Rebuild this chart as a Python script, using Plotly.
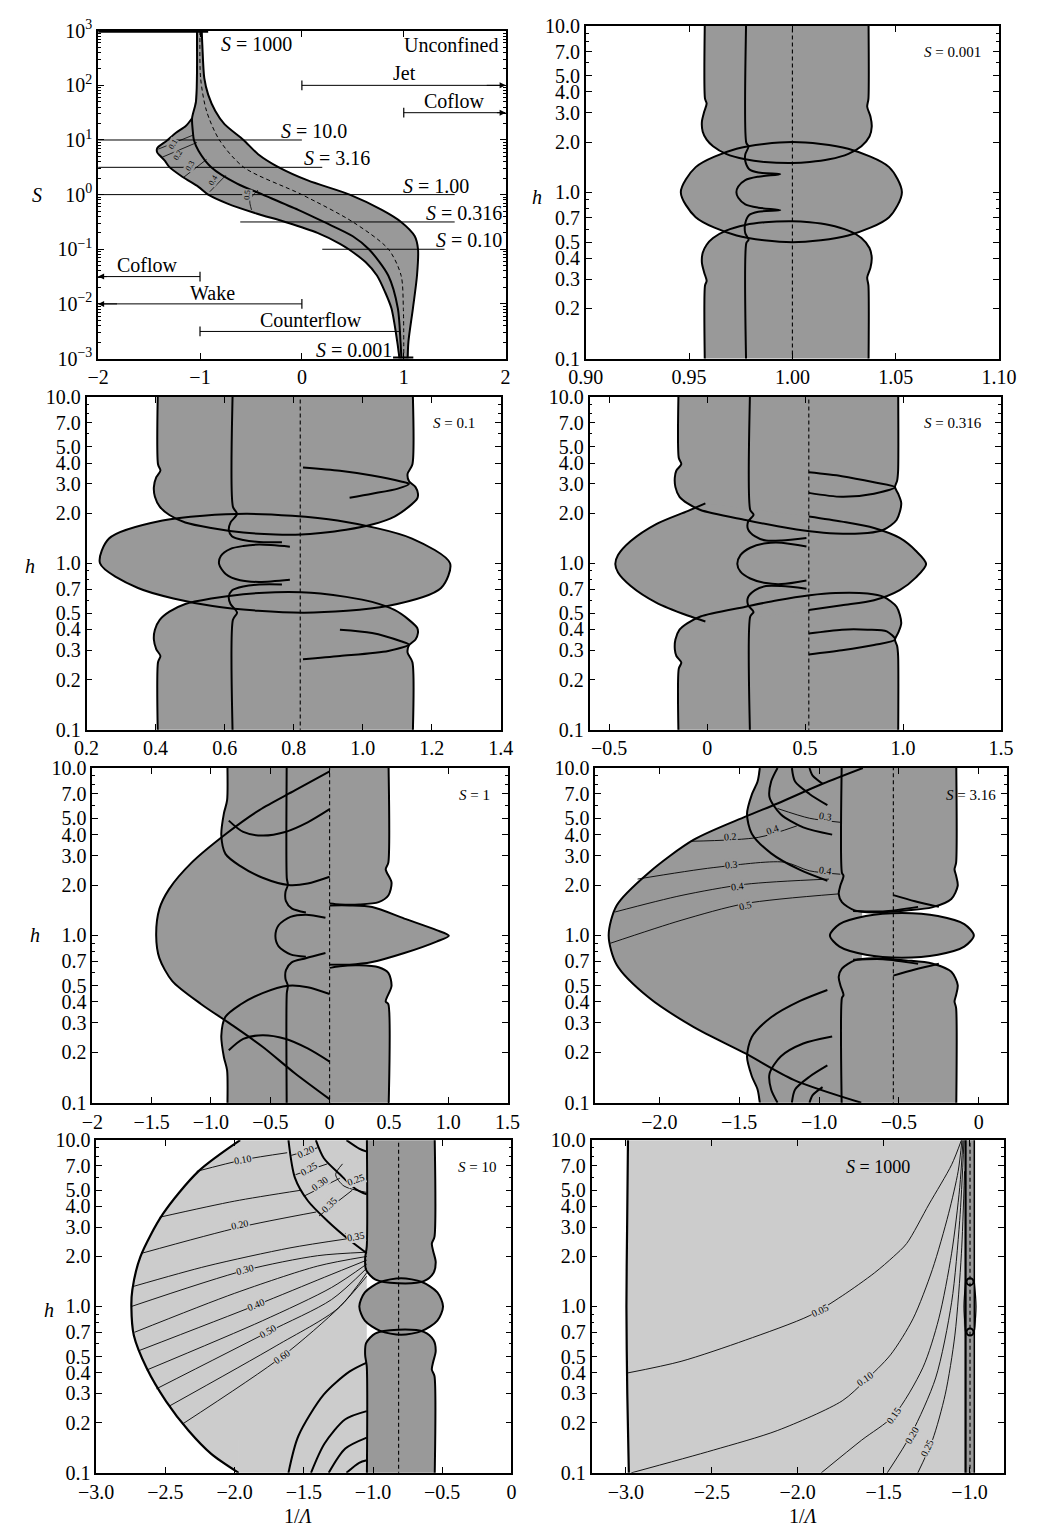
import math
import plotly.graph_objects as go

W, H = 1046, 1538
DARK = "#999999"
LIGHT = "#cccccc"
FONT = "Liberation Serif"
M = "\u2212"

# subplot frames in pixels: left, right, top, bottom
FRAMES = {
    1: (83, 505, 18, 351), 2: (588, 1016, 13, 351),
    3: (71, 500, 390, 728), 4: (592, 1018, 390, 728),
    5: (77, 507, 767, 1107), 6: (598, 1024, 767, 1107),
    7: (81, 511, 1145, 1483), 8: (594, 1021, 1145, 1483),
}

# ---------------- panel 1: S against 1/Lambda ----------------
P1_RIGHT = [(-0.983, 1000), (-0.977, 537), (-0.958, 135), (-0.92, 67.6), (-0.85, 33.9),
            (-0.76, 19.5), (-0.573, 10), (-0.43, 5.5), (-0.226, 3.16), (0.058, 1.82),
            (0.469, 1.0), (0.785, 0.525), (0.974, 0.316), (1.107, 0.174), (1.14, 0.1),
            (1.13, 0.0331), (1.09, 0.0083), (1.046, 0.00204), (1.038, 0.001)]
P1_MID = [(-1.03, 1000), (-1.03, 150), (-1.04, 50), (-1.078, 25), (-1.07, 14), (-1.06, 10),
          (-1.015, 6.37), (-0.89, 3.18), (-0.636, 1.59), (-0.384, 1.0), (-0.036, 0.526),
          (0.216, 0.316), (0.5, 0.173), (0.658, 0.1), (0.848, 0.0331), (0.942, 0.0083),
          (0.968, 0.00204), (0.977, 0.001)]
P1_LEFT = [(-1.078, 25), (-1.14, 18), (-1.236, 13.6), (-1.33, 9.6), (-1.42, 7.1), (-1.42, 5.9),
           (-1.394, 5.2), (-1.346, 4.2), (-1.30, 3.18), (-1.17, 2.1), (-1.015, 1.39),
           (-0.92, 1.0), (-0.73, 0.686), (-0.447, 0.452), (-0.163, 0.316), (0.153, 0.2),
           (0.374, 0.126), (0.46, 0.1), (0.627, 0.0577), (0.737, 0.0331), (0.816, 0.0166),
           (0.879, 0.0083), (0.936, 0.00204), (0.958, 0.001)]
P1_DASH = [(-1.0, 1000), (-0.994, 135), (-0.936, 33.9), (-0.81, 10), (-0.57, 3.16), (0.0, 1.0),
           (0.5, 0.316), (0.85, 0.1), (0.974, 0.0331), (0.996, 0.0083), (1.0, 0.001)]
P1_CONTOURS = [
    [(-1.41, 6.8), (-1.062, 12.4)],
    [(-1.372, 4.83), (-1.031, 9.0)],
    [(-1.157, 2.1), (-0.936, 4.4)],
    [(-0.904, 1.13), (-0.747, 2.25)],
    [(-0.494, 0.526), (-0.51, 0.8), (-0.431, 1.21)],
]
P1_CONTOUR_LABELS = [("0.1", -1.268, 8.4, -60), ("0.2", -1.22, 5.2, -60), ("0.3", -1.094, 3.4, -60),
                     ("0.4", -0.873, 1.83, -60), ("0.5", -0.541, 0.98, -85)]
# reference S levels: (S, x start, x end)
P1_LEVELS = [(10.0, -2, 0.0), (3.16, -2, 0.2), (1.0, -2, 1.5), (0.316, -0.605, 1.5), (0.1, 0.2, 1.4)]
P1_LEVEL_TEXT = [("<i>S</i> = 1000", -0.447, 575), ("<i>S</i> = 10.0", 0.122, 14.6),
                 ("<i>S</i> = 3.16", 0.343, 4.62), ("<i>S</i> = 1.00", 1.321, 1.45),
                 ("<i>S</i> = 0.316", 1.59, 0.458), ("<i>S</i> = 0.10", 1.637, 0.145),
                 ("<i>S</i> = 0.001", 0.516, 0.00146)]
P1_REGIME_TEXT = [("Unconfined", 1.463, 540), ("Jet", 1.006, 165), ("Coflow", 1.495, 50.8),
                  ("Coflow", -1.52, 0.0513), ("Wake", -0.873, 0.016), ("Counterflow", 0.09, 0.00507)]
# regime arrows: (x start, x end, S, arrowhead)
P1_ARROWS = [(0, 2, 100, True), (1, 2, 31.6, True), (-1, -2, 0.0316, True),
             (0, -2, 0.01, True), (-1, 0.97, 0.00313, False)]

# ---------------- panel 2: S = 0.001 ----------------
P2_TUBE_LO = [(0.9577, 0.1), (0.9577, 0.274), (0.9585, 0.293), (0.9573, 0.329), (0.9562, 0.377),
              (0.9566, 0.432), (0.9585, 0.483), (0.9616, 0.530), (0.9679, 0.587), (0.9772, 0.635),
              (0.9866, 0.659), (1.0, 0.668), (1.0084, 0.659), (1.0178, 0.635), (1.0271, 0.587),
              (1.0334, 0.530), (1.0373, 0.462), (1.0384, 0.404), (1.0378, 0.352), (1.0362, 0.307),
              (1.0368, 0.274), (1.0368, 0.1)]
P2_TUBE_UP = [(0.9577, 10), (0.9577, 3.65), (0.9585, 3.41), (0.9573, 3.04), (0.9562, 2.65),
              (0.9566, 2.31), (0.9585, 2.07), (0.9616, 1.89), (0.9679, 1.70), (0.9772, 1.575),
              (0.9866, 1.517), (1.0, 1.497), (1.0084, 1.517), (1.0178, 1.575), (1.0271, 1.70),
              (1.0334, 1.89), (1.0373, 2.16), (1.0384, 2.475), (1.0378, 2.84), (1.0362, 3.26),
              (1.0368, 3.65), (1.0368, 10)]
P2_ELLIPSE = [(1.053, 1.0), (1.0468, 1.414), (1.027, 1.823), (1.0, 2.0), (0.973, 1.823),
              (0.9532, 1.414), (0.946, 1.0), (0.9532, 0.707), (0.973, 0.5486), (1.0, 0.5),
              (1.027, 0.5486), (1.0468, 0.707), (1.053, 1.0)]
P2_SOLID = [(0.9777, 0.1), (0.9777, 0.494), (0.9788, 0.518), (0.9772, 0.566), (0.9772, 0.650),
            (0.9791, 0.728), (0.9835, 0.762), (0.9941, 0.780), (0.9835, 0.807), (0.9772, 0.845),
            (0.9738, 0.925), (0.9729, 1.0), (0.9738, 1.081), (0.9772, 1.183), (0.9835, 1.239),
            (0.9941, 1.282), (0.9835, 1.312), (0.9791, 1.374), (0.9772, 1.538), (0.9772, 1.687),
            (0.9788, 1.888), (0.9777, 1.977), (0.9777, 10)]
P2_DASH_X = 1.0

# ---------------- panel 3: S = 0.1 ----------------
P3_TUBE_LO = [(0.407, 0.1), (0.407, 0.254), (0.414, 0.277), (0.402, 0.304), (0.395, 0.348),
              (0.398, 0.399), (0.412, 0.457), (0.440, 0.512), (0.486, 0.569), (0.561, 0.614),
              (0.654, 0.652), (0.747, 0.670), (0.822, 0.670), (0.878, 0.658), (0.952, 0.628),
              (1.027, 0.586), (1.092, 0.524), (1.134, 0.457), (1.158, 0.408), (1.160, 0.381),
              (1.153, 0.348), (1.134, 0.321), (1.130, 0.290), (1.144, 0.254), (1.144, 0.1)]
P3_TUBE_UP = [(0.407, 10), (0.407, 3.94), (0.414, 3.61), (0.402, 3.29), (0.395, 2.87),
              (0.398, 2.51), (0.412, 2.19), (0.440, 1.95), (0.486, 1.76), (0.561, 1.63),
              (0.654, 1.53), (0.747, 1.49), (0.822, 1.49), (0.878, 1.52), (0.952, 1.59),
              (1.027, 1.71), (1.092, 1.91), (1.134, 2.19), (1.158, 2.45), (1.160, 2.62),
              (1.153, 2.87), (1.134, 3.12), (1.130, 3.45), (1.144, 3.94), (1.144, 10)]
P3_ELLIPSE = [(1.253, 1.0), (1.143, 1.408), (0.927, 1.808), (0.662, 1.982), (0.420, 1.808),
              (0.265, 1.408), (0.239, 1.0), (0.349, 0.710), (0.565, 0.553), (0.830, 0.505),
              (1.072, 0.553), (1.227, 0.710), (1.253, 1.0)]
P3_SOLID_A = [(0.624, 0.1), (0.624, 0.457), (0.636, 0.505), (0.617, 0.569), (0.612, 0.628),
              (0.621, 0.687), (0.654, 0.725), (0.70, 0.745), (0.766, 0.746)]
P3_SOLID_B = [(0.789, 0.796), (0.70, 0.772), (0.645, 0.79), (0.603, 0.863), (0.584, 0.989),
              (0.589, 1.107), (0.617, 1.222), (0.654, 1.27), (0.70, 1.295), (0.789, 1.259)]
P3_SOLID_C = [(0.766, 1.34), (0.70, 1.342), (0.654, 1.38), (0.621, 1.456), (0.612, 1.592),
              (0.617, 1.757), (0.636, 1.98), (0.624, 2.19), (0.624, 10)]
P3_TONGUE_UP = [(0.827, 3.77), (0.934, 3.6), (1.027, 3.37), (1.111, 3.1), (1.134, 3.0),
                (1.102, 2.81), (1.027, 2.62), (0.962, 2.48)]
P3_TONGUE_LO = [(0.934, 0.399), (1.027, 0.381), (1.111, 0.340), (1.134, 0.325), (1.074, 0.297),
                (0.934, 0.277), (0.827, 0.265)]
P3_DASH_X = 0.819

# ---------------- panel 4: S = 0.316 ----------------
P4_TUBE_LO = [(-0.145, 0.1), (-0.145, 0.232), (-0.132, 0.253), (-0.157, 0.277), (-0.165, 0.304),
              (-0.162, 0.348), (-0.141, 0.399), (-0.100, 0.437), (-0.034, 0.479), (0.196, 0.548),
              (0.360, 0.600), (0.524, 0.643), (0.655, 0.663), (0.819, 0.658), (0.901, 0.628),
              (0.967, 0.548), (0.991, 0.437), (0.975, 0.381), (0.959, 0.348), (0.970, 0.318),
              (0.975, 0.277), (0.975, 0.1)]
P4_TUBE_UP = [(-0.145, 10), (-0.145, 4.31), (-0.132, 3.95), (-0.157, 3.61), (-0.165, 3.29),
              (-0.162, 2.87), (-0.141, 2.51), (-0.100, 2.29), (-0.034, 2.09), (0.196, 1.82),
              (0.360, 1.67), (0.524, 1.556), (0.655, 1.51), (0.819, 1.52), (0.901, 1.59),
              (0.967, 1.82), (0.991, 2.29), (0.975, 2.62), (0.959, 2.87), (0.970, 3.14),
              (0.975, 3.61), (0.975, 10)]
P4_LOBE_L = [(-0.009, 2.29), (-0.10, 2.06), (-0.26, 1.72), (-0.39, 1.36), (-0.455, 1.12),
             (-0.469, 0.99), (-0.455, 0.88), (-0.39, 0.73), (-0.26, 0.58), (-0.10, 0.485),
             (-0.009, 0.447)]
P4_LOBE_R = [(0.519, 1.91), (0.688, 1.78), (0.852, 1.63), (0.983, 1.42), (1.065, 1.19),
             (1.118, 0.99), (1.065, 0.82), (0.983, 0.69), (0.852, 0.60), (0.688, 0.56),
             (0.519, 0.524)]
P4_SOLID_A = [(0.220, 0.1), (0.220, 0.479), (0.237, 0.51), (0.209, 0.56), (0.209, 0.625),
              (0.245, 0.69), (0.30, 0.73), (0.38, 0.73), (0.507, 0.704)]
P4_SOLID_B = [(0.507, 0.789), (0.38, 0.75), (0.30, 0.76), (0.22, 0.81), (0.17, 0.89),
              (0.154, 0.99), (0.17, 1.12), (0.22, 1.24), (0.30, 1.32), (0.38, 1.33), (0.507, 1.26)]
P4_SOLID_C = [(0.507, 1.42), (0.38, 1.37), (0.30, 1.37), (0.245, 1.45), (0.209, 1.6),
              (0.209, 1.78), (0.237, 1.96), (0.220, 2.09), (0.220, 10)]
P4_TONGUE_UP = [(0.519, 3.52), (0.688, 3.34), (0.852, 3.07), (0.959, 2.87), (0.852, 2.62),
                (0.688, 2.51), (0.519, 2.65)]
P4_TONGUE_LO = [(0.519, 0.378), (0.688, 0.399), (0.819, 0.399), (0.917, 0.39), (0.959, 0.348),
                (0.852, 0.323), (0.688, 0.30), (0.519, 0.283)]
P4_DASH_X = 0.519

# ---------------- panel 5: S = 1 ----------------
P5_CAP_UL = [(-0.864, 10), (-0.864, 6.42), (-0.891, 5.36), (-0.913, 3.99), (-0.878, 3.07),
             (-0.755, 2.60), (-0.565, 2.21), (-0.348, 2.0), (-0.185, 2.04), (0.0, 2.24)]
P5_CAP_LL = [(-0.864, 0.1), (-0.864, 0.156), (-0.891, 0.187), (-0.913, 0.251), (-0.878, 0.326),
             (-0.755, 0.385), (-0.565, 0.452), (-0.348, 0.50), (-0.185, 0.49), (0.0, 0.446)]
P5_LOBE = [(0.0, 9.56), (-0.293, 7.35), (-0.592, 5.61), (-0.864, 4.09), (-1.163, 2.72),
           (-1.353, 1.89), (-1.435, 1.44), (-1.462, 1.0), (-1.435, 0.731), (-1.326, 0.533),
           (-1.082, 0.388), (-0.837, 0.296), (-0.565, 0.216), (-0.293, 0.150), (0.0, 0.105)]
P5_TUBE_UR = [(0.0, 1.55), (0.087, 1.53), (0.25, 1.53), (0.413, 1.58), (0.495, 1.73),
              (0.522, 2.07), (0.473, 2.48), (0.495, 2.72), (0.495, 10)]
P5_TUBE_LR = [(0.0, 0.64), (0.087, 0.655), (0.25, 0.662), (0.413, 0.645), (0.495, 0.597),
              (0.522, 0.498), (0.473, 0.403), (0.495, 0.388), (0.495, 0.1)]
P5_RLOBE = [(0.0, 1.51), (0.168, 1.51), (0.359, 1.476), (0.630, 1.26), (0.902, 1.075),
            (1.005, 0.995), (0.902, 0.918), (0.630, 0.784), (0.359, 0.693), (0.168, 0.668),
            (0.0, 0.668)]
P5_SOLID_A = [(-0.361, 0.1), (-0.361, 0.45), (-0.352, 0.50), (-0.372, 0.55), (-0.368, 0.62),
              (-0.32, 0.69), (-0.2, 0.73), (-0.035, 0.784)]
P5_SOLID_B = [(-0.2, 0.745), (-0.33, 0.77), (-0.43, 0.86), (-0.457, 0.99), (-0.43, 1.15),
              (-0.33, 1.29), (-0.2, 1.33), (-0.035, 1.276)]
P5_SOLID_C = [(-0.2, 1.37), (-0.32, 1.45), (-0.368, 1.6), (-0.372, 1.82), (-0.352, 2.0),
              (-0.361, 2.2), (-0.361, 10)]
P5_LOOP_UP = [(-0.85, 4.85), (-0.728, 4.15), (-0.565, 3.95), (-0.375, 4.15), (-0.185, 4.74),
              (0.0, 5.68)]
P5_LOOP_LO = [(-0.85, 0.206), (-0.728, 0.241), (-0.565, 0.253), (-0.375, 0.241), (-0.185, 0.211),
              (0.0, 0.176)]
P5_DASH_X = 0.0

# ---------------- panel 6: S = 3.16 ----------------
P6_TUBE_UP = [(-0.857, 10), (-0.857, 2.37), (-0.847, 2.27), (-0.867, 1.98), (-0.877, 1.77),
              (-0.857, 1.58), (-0.777, 1.41), (-0.656, 1.37), (-0.454, 1.41), (-0.293, 1.47),
              (-0.172, 1.65), (-0.132, 1.98), (-0.142, 2.27), (-0.152, 2.48), (-0.142, 2.72),
              (-0.142, 10)]
P6_TUBE_LO = [(-0.857, 0.1), (-0.857, 0.422), (-0.847, 0.44), (-0.867, 0.505), (-0.877, 0.565),
              (-0.857, 0.633), (-0.777, 0.709), (-0.656, 0.730), (-0.454, 0.709), (-0.293, 0.680),
              (-0.172, 0.606), (-0.132, 0.505), (-0.142, 0.44), (-0.152, 0.403), (-0.142, 0.368),
              (-0.142, 0.1)]
P6_ELLIPSE = [(-0.031, 1.0), (-0.091, 1.168), (-0.256, 1.306), (-0.4815, 1.36), (-0.707, 1.306),
              (-0.872, 1.168), (-0.932, 1.0), (-0.872, 0.856), (-0.707, 0.766), (-0.4815, 0.735),
              (-0.256, 0.766), (-0.091, 0.856), (-0.031, 1.0)]
P6_LOBE = [(-0.726, 10), (-0.978, 8.05), (-1.26, 6.14), (-1.461, 5.12), (-1.784, 3.73),
           (-2.066, 2.37), (-2.267, 1.51), (-2.317, 1.0), (-2.267, 0.668), (-2.066, 0.425),
           (-1.784, 0.283), (-1.461, 0.197), (-1.159, 0.137), (-0.736, 0.1)]
P6_ARCS_UP = [
    [(-0.948, 2.12), (-1.119, 2.46), (-1.30, 3.09), (-1.421, 4.05), (-1.451, 5.32), (-1.421, 6.94),
     (-1.385, 8.3), (-1.371, 10)],
    [(-0.918, 4.0), (-1.099, 4.42), (-1.24, 5.3), (-1.31, 6.7), (-1.30, 8.3), (-1.26, 10)],
    [(-0.948, 6.0), (-1.06, 7.0), (-1.15, 8.3), (-1.17, 10)],
    [(-0.978, 8.05), (-1.04, 9.0), (-1.06, 10)],
]
P6_ARCS_LO = [
    [(-0.948, 0.472), (-1.119, 0.406), (-1.30, 0.324), (-1.421, 0.247), (-1.451, 0.188), (-1.421, 0.144),
     (-1.385, 0.12), (-1.371, 0.1)],
    [(-0.918, 0.249), (-1.099, 0.226), (-1.24, 0.189), (-1.31, 0.149), (-1.30, 0.12), (-1.26, 0.1)],
    [(-0.948, 0.167), (-1.06, 0.143), (-1.15, 0.12), (-1.17, 0.1)],
    [(-0.978, 0.124), (-1.04, 0.111), (-1.06, 0.1)],
]
P6_HOOKS = [
    [(-0.535, 1.74), (-0.4, 1.6), (-0.25, 1.48)],
    [(-0.787, 1.40), (-0.6, 1.39), (-0.38, 1.48)],
    [(-0.535, 0.575), (-0.4, 0.625), (-0.25, 0.676)],
    [(-0.787, 0.714), (-0.6, 0.72), (-0.38, 0.676)],
]
P6_CONTOURS = [
    [(-1.804, 3.65), (-1.381, 3.85), (-1.139, 4.51)],
    [(-1.26, 5.73), (-1.059, 5.01), (-0.867, 4.74)],
    [(-2.136, 2.17), (-1.663, 2.54), (-1.22, 2.74), (-1.059, 2.43), (-0.867, 2.32)],
    [(-2.277, 1.38), (-1.864, 1.73), (-1.461, 2.02), (-0.938, 2.17)],
    [(-2.307, 0.897), (-1.864, 1.23), (-1.461, 1.55), (-0.877, 1.77)],
]
P6_CONTOUR_LABELS = [("0.2", -1.552, 3.9, -5), ("0.4", -1.29, 4.3, -20), ("0.3", -0.958, 5.1, 10),
                     ("0.3", -1.546, 2.64, -5), ("0.4", -0.958, 2.45, 8), ("0.4", -1.512, 1.95, -8),
                     ("0.5", -1.461, 1.5, -14)]
P6_DASH_X = -0.535

# ---------------- panel 7: S = 10 ----------------
P7_ARC = [(-1.960, 10), (-2.262, 6.49), (-2.518, 3.6), (-2.681, 1.99), (-2.739, 1.26),
          (-2.746, 1.0), (-2.728, 0.669), (-2.635, 0.425), (-2.495, 0.269), (-2.332, 0.179),
          (-2.169, 0.130), (-1.971, 0.1)]
P7_BAND = [(-1.975, 0.1), (-1.975, 10), (-1.045, 10), (-1.045, 0.1)]
P7_TUBE_UP = [(-1.045, 10), (-1.045, 2.3), (-1.057, 1.95), (-1.05, 1.66), (-0.982, 1.45),
              (-0.82, 1.38), (-0.633, 1.42), (-0.563, 1.59), (-0.547, 1.85), (-0.565, 2.15),
              (-0.575, 2.39), (-0.556, 2.62), (-0.556, 10)]
P7_TUBE_LO = [(-1.045, 0.1), (-1.045, 0.435), (-1.057, 0.513), (-1.05, 0.602), (-0.982, 0.69),
              (-0.82, 0.725), (-0.633, 0.704), (-0.563, 0.629), (-0.547, 0.54), (-0.565, 0.465),
              (-0.575, 0.418), (-0.556, 0.382), (-0.556, 0.1)]
P7_ELLIPSE = [(-0.494, 1.0), (-0.535, 1.216), (-0.646, 1.403), (-0.797, 1.479), (-0.948, 1.403),
              (-1.059, 1.216), (-1.099, 1.0), (-1.059, 0.822), (-0.948, 0.713), (-0.797, 0.676),
              (-0.646, 0.713), (-0.535, 0.822), (-0.494, 1.0)]
P7_ARCS = [
    [(-1.611, 10), (-1.564, 5.93), (-1.471, 4.32), (-1.331, 3.28), (-1.168, 2.50), (-1.045, 2.09)],
    [(-1.413, 10), (-1.355, 7.78), (-1.238, 6.21), (-1.122, 5.06), (-1.045, 4.72)],
    [(-1.192, 10), (-1.10, 8.9), (-1.045, 8.53)],
    [(-1.611, 0.1), (-1.54, 0.166), (-1.355, 0.296), (-1.168, 0.407), (-1.045, 0.46)],
    [(-1.448, 0.1), (-1.35, 0.15), (-1.2, 0.21), (-1.045, 0.235)],
    [(-1.32, 0.1), (-1.2, 0.14), (-1.045, 0.163)],
    [(-1.192, 0.1), (-1.1, 0.115), (-1.045, 0.119)],
]
P7_CONTOURS = [
    [(-2.274, 6.49), (-1.936, 7.62), (-1.62, 8.4)],
    [(-2.542, 3.44), (-2.0, 4.3), (-1.52, 5.0)],
    [(-2.67, 2.09), (-1.96, 3.0), (-1.41, 3.7)],
    [(-2.732, 1.32), (-2.2, 1.75), (-1.6, 2.25), (-1.19, 2.55)],
    [(-2.746, 1.0), (-1.925, 1.65), (-1.4, 2.02), (-1.045, 2.12)],
    [(-2.723, 0.70), (-2.0, 1.2), (-1.4, 1.75), (-1.045, 2.0)],
    [(-2.686, 0.545), (-1.843, 1.02), (-1.35, 1.5), (-1.045, 1.9)],
    [(-2.635, 0.415), (-1.8, 0.82), (-1.3, 1.3), (-1.045, 1.8)],
    [(-2.565, 0.32), (-1.762, 0.70), (-1.3, 1.1), (-1.045, 1.7)],
    [(-2.472, 0.252), (-1.7, 0.58), (-1.25, 0.98), (-1.045, 1.6)],
    [(-2.379, 0.196), (-1.657, 0.50), (-1.238, 1.0), (-1.045, 1.52)],
]
P7_SHORT = [
    [(-1.59, 8.1), (-1.40, 9.0)],
    [(-1.56, 6.2), (-1.33, 7.2)],
    [(-1.50, 4.6), (-1.24, 5.9)],
    [(-1.39, 3.5), (-1.15, 5.0)],
    [(-1.22, 7.2), (-1.27, 6.2), (-1.21, 5.3), (-1.045, 4.85)],
    [(-1.2, 2.75), (-1.045, 2.5)],
]
P7_CONTOUR_LABELS = [("0.10", -1.936, 7.62, -10), ("0.20", -1.96, 3.1, -12), ("0.30", -1.925, 1.68, -15),
                     ("0.40", -1.843, 1.03, -22), ("0.50", -1.762, 0.71, -30), ("0.60", -1.657, 0.50, -35),
                     ("0.20", -1.483, 8.53, -25), ("0.25", -1.459, 6.73, -30), ("0.30", -1.385, 5.48, -35),
                     ("0.35", -1.315, 4.12, -45), ("0.25", -1.122, 5.8, -20), ("0.35", -1.122, 2.62, -10)]
P7_DASH_X = -0.815

# ---------------- panel 8: S = 1000 ----------------
P8_EDGE = [(-2.988, 10), (-2.993, 3.0), (-2.997, 1.0), (-2.992, 0.3), (-2.983, 0.1)]
P8_TUBE_X = (-1.023, -0.972)
P8_BULGE_L = [(-1.023, 1.41), (-1.032, 1.0), (-1.023, 0.703)]
P8_BULGE_R = [(-0.972, 1.41), (-0.962, 1.0), (-0.972, 0.703)]
P8_RINGS = [(-0.997, 1.41), (-0.997, 0.703)]
P8_CONTOURS = [
    [(-2.988, 0.399), (-2.679, 0.468), (-2.304, 0.628), (-1.929, 0.883), (-1.741, 1.159),
     (-1.554, 1.59), (-1.441, 2.0), (-1.366, 2.39), (-1.235, 4.13), (-1.104, 7.12), (-1.047, 10)],
    [(-2.969, 0.1), (-2.491, 0.137), (-2.116, 0.18), (-1.741, 0.271), (-1.610, 0.356),
     (-1.46, 0.512), (-1.329, 0.843), (-1.216, 1.67), (-1.122, 3.61), (-1.066, 6.5), (-1.044, 10)],
    [(-1.863, 0.1), (-1.629, 0.157), (-1.441, 0.221), (-1.272, 0.428), (-1.179, 0.843),
     (-1.104, 2.09), (-1.057, 5.18), (-1.038, 10)],
    [(-1.479, 0.1), (-1.338, 0.172), (-1.197, 0.372), (-1.104, 1.06), (-1.057, 3.29), (-1.032, 10)],
    [(-1.301, 0.1), (-1.216, 0.157), (-1.141, 0.297), (-1.085, 0.673), (-1.047, 2.09), (-1.029, 6.5)],
]
P8_CONTOUR_LABELS = [("0.05", -1.872, 0.95, -25), ("0.10", -1.606, 0.37, -35), ("0.15", -1.441, 0.221, -55),
                     ("0.20", -1.332, 0.169, -60), ("0.25", -1.25, 0.141, -65)]
P8_DASH_X = -0.997

# axis settings
X_RANGES = {1: [-2, 2], 2: [0.9, 1.1], 3: [0.2, 1.4], 4: [-0.6, 1.5], 5: [-2, 1.5],
            6: [-2.4, 0.175], 7: [-3, 0], 8: [-3.2, -0.8]}
X_TICKS = {
    1: ([-2, -1, 0, 1, 2], [M + "2", M + "1", "0", "1", "2"]),
    2: ([0.90, 0.95, 1.00, 1.05, 1.10], ["0.90", "0.95", "1.00", "1.05", "1.10"]),
    3: ([0.2, 0.4, 0.6, 0.8, 1.0, 1.2, 1.4], ["0.2", "0.4", "0.6", "0.8", "1.0", "1.2", "1.4"]),
    4: ([-0.5, 0, 0.5, 1.0, 1.5], [M + "0.5", "0", "0.5", "1.0", "1.5"]),
    5: ([-2, -1.5, -1, -0.5, 0, 0.5, 1, 1.5], [M + "2", M + "1.5", M + "1.0", M + "0.5", "0", "0.5", "1.0", "1.5"]),
    6: ([-2, -1.5, -1, -0.5, 0], [M + "2.0", M + "1.5", M + "1.0", M + "0.5", "0"]),
    7: ([-3, -2.5, -2, -1.5, -1, -0.5, 0], [M + "3.0", M + "2.5", M + "2.0", M + "1.5", M + "1.0", M + "0.5", "0"]),
    8: ([-3, -2.5, -2, -1.5, -1], [M + "3.0", M + "2.5", M + "2.0", M + "1.5", M + "1.0"]),
}
H_TICKS = [0.1, 0.2, 0.3, 0.4, 0.5, 0.7, 1, 2, 3, 4, 5, 7, 10]
H_TEXT = ["0.1", "0.2", "0.3", "0.4", "0.5", "0.7", "1.0", "2.0", "3.0", "4.0", "5.0", "7.0", "10.0"]
H_MINOR = [0.6, 0.8, 0.9, 6, 8, 9]
S_TICKS = [1e-3, 1e-2, 1e-1, 1, 10, 100, 1000]
S_TEXT = ["10<sup>" + M + "3</sup>", "10<sup>" + M + "2</sup>", "10<sup>" + M + "1</sup>",
          "10<sup>0</sup>", "10<sup>1</sup>", "10<sup>2</sup>", "10<sup>3</sup>"]
S_MINOR = [m * 10 ** e for e in range(-3, 3) for m in range(2, 10)]

PANEL_TITLES = [(2, "<i>S</i> = 0.001", 968, 40, 15), (3, "<i>S</i> = 0.1", 452, 417, 15),
                (4, "<i>S</i> = 0.316", 968, 417, 15), (5, "<i>S</i> = 1", 473, 794, 15),
                (6, "<i>S</i> = 3.16", 987, 794, 15), (7, "<i>S</i> = 10", 475, 1172, 15),
                (8, "<i>S</i> = 1000", 891, 1172, 18)]
AXIS_TITLES = [("<i>S</i>", 20, 185), ("<i>h</i>", 537, 187), ("<i>h</i>", 12, 562),
               ("<i>h</i>", 18, 937), ("<i>h</i>", 32, 1318), ("1/<i>\u039b</i>", 290, 1527),
               ("1/<i>\u039b</i>", 813, 1527)]

# frame limits (lower, upper) and the near/far values used to carry edges past them
EDGES = {1: (0.001, 1000), 'h': (0.1, 10)}
EDGE_NEAR = {1: (0.0007, 1400), 'h': (0.07, 14)}
EDGE_FAR = {1: (0.0003, 3000), 'h': (0.03, 30)}


def axes(k):
    return ("x" if k == 1 else f"x{k}", "y" if k == 1 else f"y{k}")


def carry(k, pts, wrap):
    """Vertical edges that end on the frame are carried past it so splines run straight into it."""
    key = 1 if k == 1 else 'h'
    lo, hi = EDGES[key]
    nlo, nhi = EDGE_NEAR[key]
    flo, fhi = EDGE_FAR[key]
    n = len(pts)
    out = []
    for i, (x, y) in enumerate(pts):
        prev = pts[i - 1] if (i > 0 or wrap) else None
        nxt = pts[(i + 1) % n] if (i < n - 1 or wrap) else None
        vp = prev is not None and abs(prev[0] - x) < 1e-9 and prev[1] != y
        vn = nxt is not None and abs(nxt[0] - x) < 1e-9 and nxt[1] != y
        at_lo = abs(y - lo) < lo * 1e-6
        at_hi = abs(y - hi) < hi * 1e-6
        if (vp or vn) and (at_lo or at_hi):
            near, far = (nlo, flo) if at_lo else (nhi, fhi)
            if vp and not vn:
                out += [(x, near), (x, far)]
            elif vn and not vp:
                out += [(x, far), (x, near)]
            else:
                out.append((x, near))
        else:
            out.append((x, y))
    return out


fills, strokes, notes = [], [], []


def fill(k, pts, color=DARK, shape="spline"):
    xa, ya = axes(k)
    pts = carry(k, pts, True)
    fills.append(go.Scatter(x=[p[0] for p in pts], y=[p[1] for p in pts], xaxis=xa, yaxis=ya,
                            mode="lines", fill="toself", fillcolor=color,
                            line=dict(width=0, color=color, shape=shape, smoothing=0.8),
                            hoverinfo="skip", showlegend=False))


def stroke(k, pts, width=2.0, dash=None, shape="spline", color="black", extend=True):
    xa, ya = axes(k)
    if extend:
        pts = carry(k, pts, False)
    strokes.append(go.Scatter(x=[p[0] for p in pts], y=[p[1] for p in pts], xaxis=xa, yaxis=ya,
                              mode="lines", line=dict(width=width, color=color, dash=dash,
                                                      shape=shape, smoothing=0.8),
                              hoverinfo="skip", showlegend=False))


def vdash(k, x, lo=0.1, hi=10):
    stroke(k, [(x, lo), (x, hi)], width=1.1, dash="4px,3px", shape="linear")


def label(k, text, x, y, angle=0, size=10, bg=DARK):
    xa, ya = axes(k)
    notes.append(dict(text=text, x=x, y=math.log10(y), xref=xa, yref=ya, showarrow=False,
                      textangle=angle, bgcolor=bg, borderpad=0,
                      font=dict(family=FONT, size=size, color="black")))


def paper_text(text, px, py, size=20):
    notes.append(dict(text=text, x=px / W, y=1 - py / H, xref="paper", yref="paper",
                      showarrow=False, xanchor="center", yanchor="middle",
                      font=dict(family=FONT, size=size, color="black")))


# ---- panel 1 ----
fill(1, P1_RIGHT + P1_LEFT[::-1] + [(-1.03, 150), (-1.03, 1000)])
stroke(1, P1_RIGHT)
stroke(1, P1_MID)
stroke(1, P1_LEFT)
stroke(1, P1_DASH, width=1.0, dash="4px,3px")
for c in P1_CONTOURS:
    stroke(1, c, width=0.8)
for t, x, y, a in P1_CONTOUR_LABELS:
    label(1, t, x, y, a, size=8)
for s, x0, x1 in P1_LEVELS:
    stroke(1, [(x0, s), (x1, s)], width=1.0, shape="linear", extend=False)
stroke(1, [(-2, 1000), (-0.92, 1000)], width=4, shape="linear", extend=False)
stroke(1, [(0.895, 0.001), (1.094, 0.001)], width=4, shape="linear", extend=False)
for t, x, y in P1_LEVEL_TEXT + P1_REGIME_TEXT:
    label(1, t, x, y, 0, size=20, bg="rgba(0,0,0,0)")
for x0, x1, s, head in P1_ARROWS:
    stroke(1, [(x0, s), (x1, s)], width=1.0, shape="linear", extend=False)
    xa, ya = axes(1)
    strokes.append(go.Scatter(x=[x0], y=[s], xaxis=xa, yaxis=ya, mode="markers",
                              marker=dict(symbol="line-ns", size=7, color="black",
                                          line=dict(width=1.2, color="black")),
                              hoverinfo="skip", showlegend=False))
    if head:
        notes.append(dict(x=x1, y=math.log10(s), ax=x0 + (x1 - x0) * 0.9, ay=math.log10(s),
                          xref=xa, yref=ya, axref=xa, ayref=ya, text="", showarrow=True,
                          arrowhead=2, arrowsize=1.2, arrowwidth=1.0, arrowcolor="black"))

# ---- panel 2 ----
for shp in (P2_TUBE_LO, P2_TUBE_UP, P2_ELLIPSE):
    fill(2, shp)
for shp in (P2_TUBE_LO, P2_TUBE_UP, P2_ELLIPSE, P2_SOLID):
    stroke(2, shp)
vdash(2, P2_DASH_X)

# ---- panel 3 ----
for shp in (P3_TUBE_LO, P3_TUBE_UP, P3_ELLIPSE):
    fill(3, shp)
for shp in (P3_TUBE_LO, P3_TUBE_UP, P3_ELLIPSE, P3_SOLID_A, P3_SOLID_B, P3_SOLID_C,
            P3_TONGUE_UP, P3_TONGUE_LO):
    stroke(3, shp)
vdash(3, P3_DASH_X)

# ---- panel 4 ----
for shp in (P4_TUBE_LO, P4_TUBE_UP, P4_LOBE_L + P4_LOBE_R[::-1]):
    fill(4, shp)
for shp in (P4_TUBE_LO, P4_TUBE_UP, P4_LOBE_L, P4_LOBE_R, P4_SOLID_A, P4_SOLID_B, P4_SOLID_C,
            P4_TONGUE_UP, P4_TONGUE_LO):
    stroke(4, shp)
vdash(4, P4_DASH_X)

# ---- panel 5 ----
fill(5, [(-0.864, 0.1), (-0.864, 10), (0.0, 10), (0.0, 0.1)], shape="linear")
fill(5, P5_CAP_UL + [(0.0, 10)])
fill(5, P5_CAP_LL + [(0.0, 0.1)])
fill(5, P5_LOBE)
fill(5, P5_TUBE_UR + [(0.0, 10)])
fill(5, P5_TUBE_LR + [(0.0, 0.1)])
fill(5, P5_RLOBE)
for shp in (P5_CAP_UL, P5_CAP_LL, P5_LOBE, P5_TUBE_UR, P5_TUBE_LR, P5_RLOBE,
            P5_SOLID_A, P5_SOLID_B, P5_SOLID_C, P5_LOOP_UP, P5_LOOP_LO):
    stroke(5, shp)
vdash(5, P5_DASH_X)

# ---- panel 6 ----
fill(6, P6_LOBE)
fill(6, P6_ARCS_UP[0] + [(-0.857, 10), (-0.857, 2.12)])
fill(6, P6_ARCS_LO[0] + [(-0.857, 0.1), (-0.857, 0.472)])
for shp in (P6_TUBE_UP, P6_TUBE_LO, P6_ELLIPSE):
    fill(6, shp)
for shp in [P6_LOBE] + P6_ARCS_UP + P6_ARCS_LO + [P6_TUBE_UP, P6_TUBE_LO, P6_ELLIPSE]:
    stroke(6, shp)
for shp in P6_HOOKS:
    stroke(6, shp)
for c in P6_CONTOURS:
    stroke(6, c, width=0.9)
for t, x, y, a in P6_CONTOUR_LABELS:
    label(6, t, x, y, a, size=10)
vdash(6, P6_DASH_X)

# ---- panel 7 ----
fill(7, P7_ARC, color=LIGHT)
fill(7, P7_BAND, color=LIGHT, shape="linear")
for shp in (P7_TUBE_UP, P7_TUBE_LO, P7_ELLIPSE):
    fill(7, shp)
stroke(7, P7_ARC, width=2.2)
for shp in (P7_TUBE_UP, P7_TUBE_LO, P7_ELLIPSE):
    stroke(7, shp)
for shp in P7_ARCS:
    stroke(7, shp)
for c in P7_CONTOURS + P7_SHORT:
    stroke(7, c, width=0.9)
for t, x, y, a in P7_CONTOUR_LABELS:
    label(7, t, x, y, a, size=10, bg=LIGHT)
vdash(7, P7_DASH_X)

# ---- panel 8 ----
fill(8, P8_EDGE + [(P8_TUBE_X[0], 0.1), (P8_TUBE_X[0], 10)], color=LIGHT, shape="linear")
fill(8, [(P8_TUBE_X[0], 0.1), (P8_TUBE_X[0], 10), (P8_TUBE_X[1], 10), (P8_TUBE_X[1], 0.1)],
     shape="linear")
fill(8, P8_BULGE_L + P8_BULGE_R[::-1])
stroke(8, P8_EDGE, width=2.2)
stroke(8, [(P8_TUBE_X[0], 0.1), (P8_TUBE_X[0], 10)], width=2.2, shape="linear")
stroke(8, [(P8_TUBE_X[1], 0.1), (P8_TUBE_X[1], 10)], width=1.5, shape="linear")
stroke(8, P8_BULGE_L, width=1.2)
stroke(8, P8_BULGE_R, width=1.2)
for c in P8_CONTOURS:
    stroke(8, c, width=0.9)
for t, x, y, a in P8_CONTOUR_LABELS:
    label(8, t, x, y, a, size=10, bg=LIGHT)
vdash(8, P8_DASH_X)
xa8, ya8 = axes(8)
strokes.append(go.Scatter(x=[p[0] for p in P8_RINGS], y=[p[1] for p in P8_RINGS], xaxis=xa8, yaxis=ya8,
                          mode="markers", marker=dict(symbol="circle-open", size=7, color="black",
                                                      line=dict(width=2, color="black")),
                          hoverinfo="skip", showlegend=False))

fig = go.Figure(data=fills + strokes)

layout = dict(width=W, height=H, margin=dict(l=0, r=0, t=0, b=0), plot_bgcolor="white",
              paper_bgcolor="white", showlegend=False, font=dict(family=FONT, size=20, color="black"))
tickfont = dict(family=FONT, size=20, color="black")
for k, (l, r, t, b) in FRAMES.items():
    xk = "xaxis" if k == 1 else f"xaxis{k}"
    yk = "yaxis" if k == 1 else f"yaxis{k}"
    xa, ya = axes(k)
    tv, tt = X_TICKS[k]
    layout[xk] = dict(domain=[l / W, r / W], range=X_RANGES[k], anchor=ya, tickvals=tv, ticktext=tt,
                      ticks="inside", ticklen=6, tickwidth=1, tickcolor="black", mirror="allticks",
                      showline=True, linewidth=1.6, linecolor="black", showgrid=False, zeroline=False,
                      tickfont=tickfont)
    if k == 1:
        yt, ytt, ym, yr = S_TICKS, S_TEXT, S_MINOR, [-3, 3]
    else:
        yt, ytt, ym, yr = H_TICKS, H_TEXT, H_MINOR, [-1, 1]
    layout[yk] = dict(domain=[1 - b / H, 1 - t / H], type="log", range=yr, anchor=xa, tickvals=yt,
                      ticktext=ytt, ticks="inside", ticklen=6, tickwidth=1, tickcolor="black",
                      mirror="allticks", showline=True, linewidth=1.6, linecolor="black",
                      showgrid=False, zeroline=False, tickfont=tickfont,
                      minor=dict(tickvals=ym, ticks="inside", ticklen=3, tickcolor="black", showgrid=False))

for k, text, px, py, size in PANEL_TITLES:
    paper_text(text, px, py, size)
for text, px, py in AXIS_TITLES:
    paper_text(text, px, py, 20)

layout["annotations"] = notes
fig.update_layout(**layout)
fig.write_html("out.html")
